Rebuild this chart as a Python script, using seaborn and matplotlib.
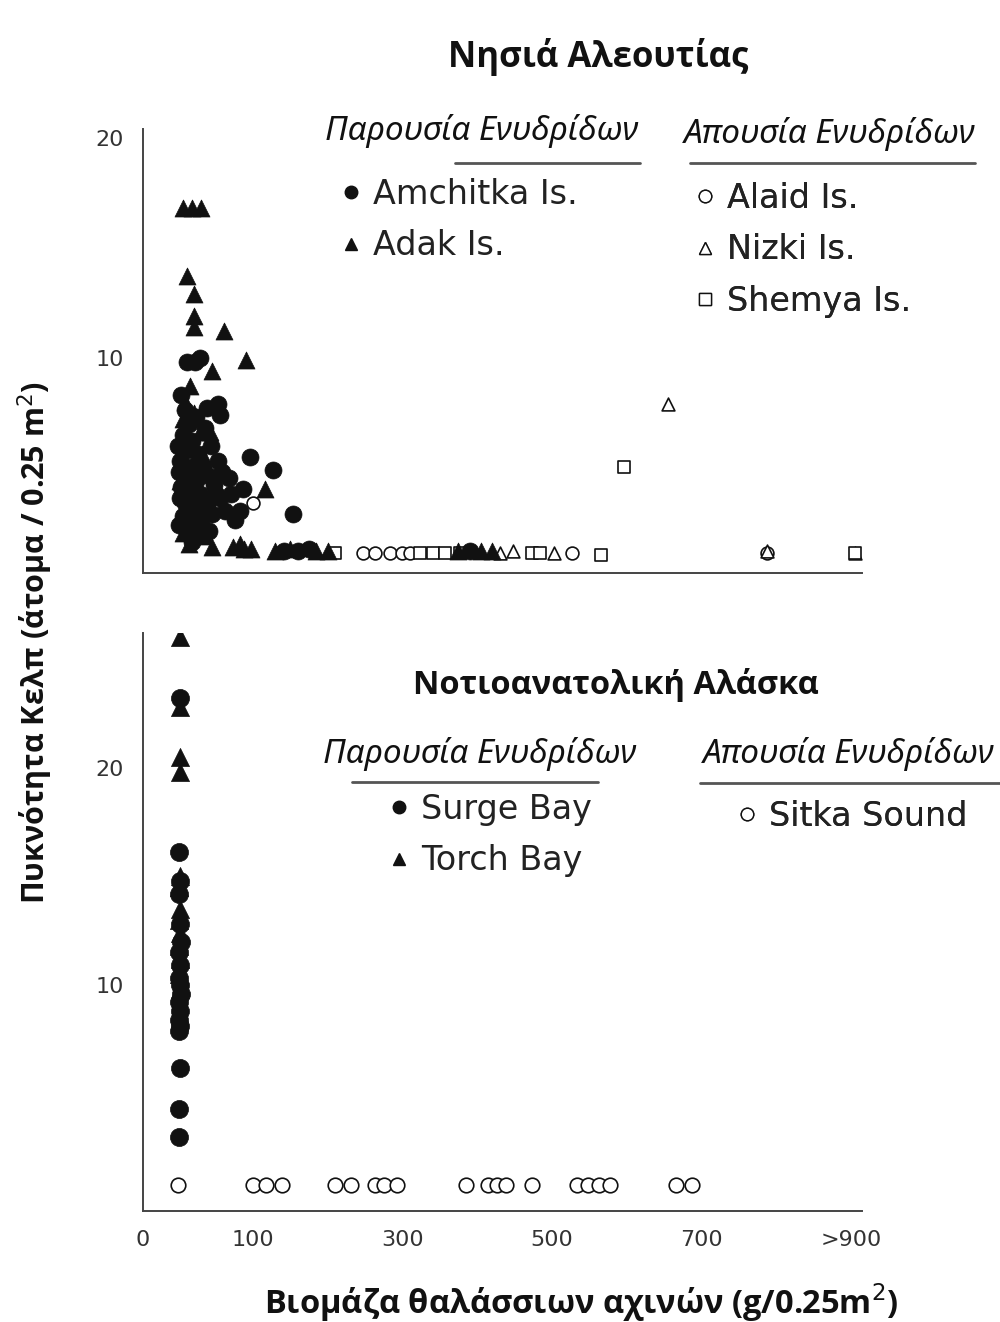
import numpy as np
import matplotlib
matplotlib.use("Agg")
import matplotlib.pyplot as plt
import seaborn as sns
from matplotlib.lines import Line2D

# --- data (x = sea urchin biomass g/0.25m2, y = kelp density per 0.25 m2) ---
# Aleutian Islands, otters present
amchitka_x = [40, 47, 52, 68, 70, 97, 127, 153, 88, 91,
              35, 38, 42, 36, 45, 40, 50, 34, 44, 55, 38, 48, 60, 35, 42, 52, 65,
              38, 47, 58, 70, 36, 44, 54, 63, 40, 50, 60, 45, 75, 78, 68, 62, 56,
              48, 58, 32, 33, 34, 33, 66, 72, 80, 84, 142, 160, 175, 390]
amchitka_y = [9.8, 9.8, 10.0, 7.9, 7.4, 5.5, 4.9, 2.9, 3.0, 4.0,
              8.3, 7.6, 7.0, 6.5, 6.2, 5.8, 5.6, 5.3, 5.0, 5.0, 4.6, 4.4, 4.6, 4.1, 3.9, 3.8, 4.2,
              3.4, 3.2, 3.3, 3.6, 2.8, 2.6, 2.7, 2.9, 2.2, 2.0, 2.1, 1.6, 3.0, 4.5, 5.3, 6.0, 6.8,
              7.3, 7.7, 6.0, 4.8, 3.6, 2.4, 3.8, 4.8, 3.8, 2.6, 1.2, 1.2, 1.3, 1.2]
adak_x = [36, 45, 53, 40, 46, 46, 46, 74, 94, 63, 43, 61, 116, 63, 88,
          38, 46, 36, 52, 42, 38, 54, 46, 34, 62, 40, 50, 36, 56, 42,
          82, 92, 98, 130, 150, 185, 200, 375, 405, 420]
adak_y = [16.8, 16.8, 16.8, 13.7, 12.9, 11.9, 11.4, 11.2, 9.9, 9.4, 8.7, 6.6, 4.0, 1.4, 1.5,
          8.0, 7.5, 7.2, 6.6, 6.0, 5.2, 5.6, 4.8, 4.4, 3.8, 3.0, 2.4, 2.0, 1.9, 1.5,
          1.4, 1.3, 1.3, 1.2, 1.3, 1.2, 1.2, 1.2, 1.2, 1.2]
# Aleutian Islands, otters absent
alaid_x = [100, 247, 263, 283, 299, 310, 527, 788]
alaid_y = [3.4, 1.1, 1.1, 1.1, 1.1, 1.1, 1.1, 1.1]
nizki_x = [655, 430, 448, 503, 788, 905]
nizki_y = [7.9, 1.1, 1.2, 1.1, 1.2, 1.1]
shemya_x = [596, 210, 323, 341, 357, 377, 473, 484, 566, 905]
shemya_y = [5.0, 1.1, 1.1, 1.1, 1.1, 1.1, 1.1, 1.1, 1.0, 1.1]

# Southeast Alaska
surge_x = [34, 33, 34, 33, 34, 35, 33, 34, 33, 34, 35, 33, 34, 33, 34, 33, 34, 33, 33]
surge_y = [23.2, 16.1, 14.8, 14.2, 12.8, 12.0, 11.5, 10.9, 10.3, 10.0, 9.6, 9.2, 8.8,
           8.4, 8.1, 7.9, 6.2, 4.3, 3.0]
torch_x = [34, 34, 34, 34, 34, 33, 34, 33, 34, 33, 34, 33, 34]
torch_y = [26.0, 22.8, 20.5, 19.8, 15.0, 14.5, 13.5, 13.0, 12.4, 11.8, 11.2, 10.5, 9.8]
sitka_x = [32, 100, 117, 139, 210, 231, 263, 275, 293, 385, 414, 426, 438, 473,
           533, 548, 563, 578, 666, 687]
sitka_y = [0.8] * len(sitka_x)

xtick_vals = [0, 100, 300, 500, 700, 900]
xtick_labels = ["0", "100", "300", "500", "700", ">900"]

# piecewise x scale (0-100 stretched, as in the original figure)
XP = [0, 100, 1000]
SP = [0, 110, 782.75]


def fwd(x):
    return np.interp(x, XP, SP)


def inv(s):
    return np.interp(s, SP, XP)


sns.set_style("white")
plt.rcParams["font.family"] = ["DejaVu Sans"]

fig = plt.figure(figsize=(10, 13.22), dpi=100)
W, H = 1000, 1322
ax1 = fig.add_axes([143 / W, 1 - 573 / H, 719 / W, 444 / H])
ax2 = fig.add_axes([143 / W, 1 - 1211 / H, 719 / W, 578 / H])

ink = "#111111"
s_fill = 150
s_open = 85

# top panel
sns.scatterplot(x=amchitka_x, y=amchitka_y, ax=ax1, marker="o", s=s_fill,
                color=ink, edgecolor=ink, linewidth=0.5, zorder=3)
sns.scatterplot(x=adak_x, y=adak_y, ax=ax1, marker="^", s=s_fill,
                color=ink, edgecolor=ink, linewidth=0.5, zorder=3)
for xs, ys, m in [(alaid_x, alaid_y, "o"), (nizki_x, nizki_y, "^"), (shemya_x, shemya_y, "s")]:
    sns.scatterplot(x=xs, y=ys, ax=ax1, marker=m, s=s_open,
                    color="white", edgecolor=ink, linewidth=1.2, zorder=2)

# bottom panel
sns.scatterplot(x=surge_x, y=surge_y, ax=ax2, marker="o", s=s_fill + 20,
                color=ink, edgecolor=ink, linewidth=0.5, zorder=3)
sns.scatterplot(x=torch_x, y=torch_y, ax=ax2, marker="^", s=s_fill + 20,
                color=ink, edgecolor=ink, linewidth=0.5, zorder=3)
sns.scatterplot(x=sitka_x, y=sitka_y, ax=ax2, marker="o", s=s_open + 25,
                color="white", edgecolor=ink, linewidth=1.2, zorder=2)

ax1.set_ylim(0.2, 20.4)
ax2.set_ylim(-0.4, 26.2)
for ax in (ax1, ax2):
    ax.set_xscale("function", functions=(fwd, inv))
    ax.set_xlim(0, 915)
    ax.set_xticks(xtick_vals)
    ax.set_xticks(list(range(50, 901, 50)), minor=True)
    ax.set_yticks([10, 20])
    ax.set_yticks([5, 15, 25] if ax is ax2 else [5, 15], minor=True)
    for side in ("top", "right"):
        ax.spines[side].set_visible(False)
    for side in ("left", "bottom"):
        ax.spines[side].set_color("#444444")
        ax.spines[side].set_linewidth(1.4)
    ax.tick_params(which="both", direction="out", color="#444444", width=1.2)
    ax.tick_params(which="major", length=6)
    ax.tick_params(which="minor", length=4)
    ax.tick_params(axis="y", labelsize=16, labelcolor="#333333", pad=8)
    ax.set_xlabel("")
    ax.set_ylabel("")

ax1.set_xticklabels([])
ax2.set_xticklabels(xtick_labels)
ax2.tick_params(axis="x", labelsize=16, labelcolor="#333333", pad=8)

# titles and axis labels
bold = dict(family=["Open Sans", "DejaVu Sans"], weight="bold", color=ink)
fig.text(598 / W, 1 - 57 / H, "Νησιά Αλεουτίας", ha="center", va="center", size=25, **bold)
fig.text(616 / W, 1 - 685 / H, "Νοτιοανατολική Αλάσκα", ha="center", va="center", size=23.5, **bold)
fig.text(35 / W, 1 - 643 / H, "Πυκνότητα Κελπ (άτομα / 0.25 m$^2$)", rotation=90,
         ha="center", va="center", size=22, **bold)
fig.text(581 / W, 1 - 1303 / H, "Βιομάζα θαλάσσιων αχινών (g/0.25m$^2$)",
         ha="center", va="center", size=23.5, **bold)

# legend headers with rule lines
ital = dict(family=["Noto Sans", "DejaVu Sans"], style="italic", color=ink, size=24)
headers = [(482, 131, "Παρουσία Ενυδρίδων", 455, 640, 163),
           (830, 134, "Απουσία Ενυδρίδων", 690, 975, 163),
           (480, 754, "Παρουσία Ενυδρίδων", 352, 598, 782),
           (849, 754, "Απουσία Ενυδρίδων", 700, 1000, 783)]
for cx, cy, txt, x0, x1, ly in headers:
    fig.text(cx / W, 1 - cy / H, txt, ha="center", va="center", **ital)
    fig.add_artist(Line2D([x0 / W, x1 / W], [1 - ly / H, 1 - ly / H],
                          color="#555555", lw=2))


def handle(marker, filled):
    return Line2D([], [], linestyle="", marker=marker, markersize=9,
                  markerfacecolor=ink if filled else "white",
                  markeredgecolor=ink, markeredgewidth=1)


legends = [
    (ax1, [handle("o", True), handle("^", True)], ["Amchitka Is.", "Adak Is."], 341, 178),
    (ax1, [handle("o", False), handle("^", False), handle("s", False)],
     ["Alaid Is.", "Nizki Is.", "Shemya Is."], 695, 182),
    (ax2, [handle("o", True), handle("^", True)], ["Surge Bay", "Torch Bay"], 389, 793),
    (ax2, [handle("o", False)], ["Sitka Sound"], 737, 800),
]
for ax, hs, labs, lx, ly in legends:
    leg = ax.legend(handles=hs, labels=labs, loc="upper left",
                    bbox_to_anchor=(lx / W, 1 - ly / H), bbox_transform=fig.transFigure,
                    frameon=False, prop=dict(family="DejaVu Sans", size=24),
                    handlelength=0.6, handletextpad=0.35, labelspacing=0.55,
                    borderpad=0, borderaxespad=0, labelcolor="#222222")
    ax.add_artist(leg)

fig.savefig("out.png", dpi=100, facecolor="white")
